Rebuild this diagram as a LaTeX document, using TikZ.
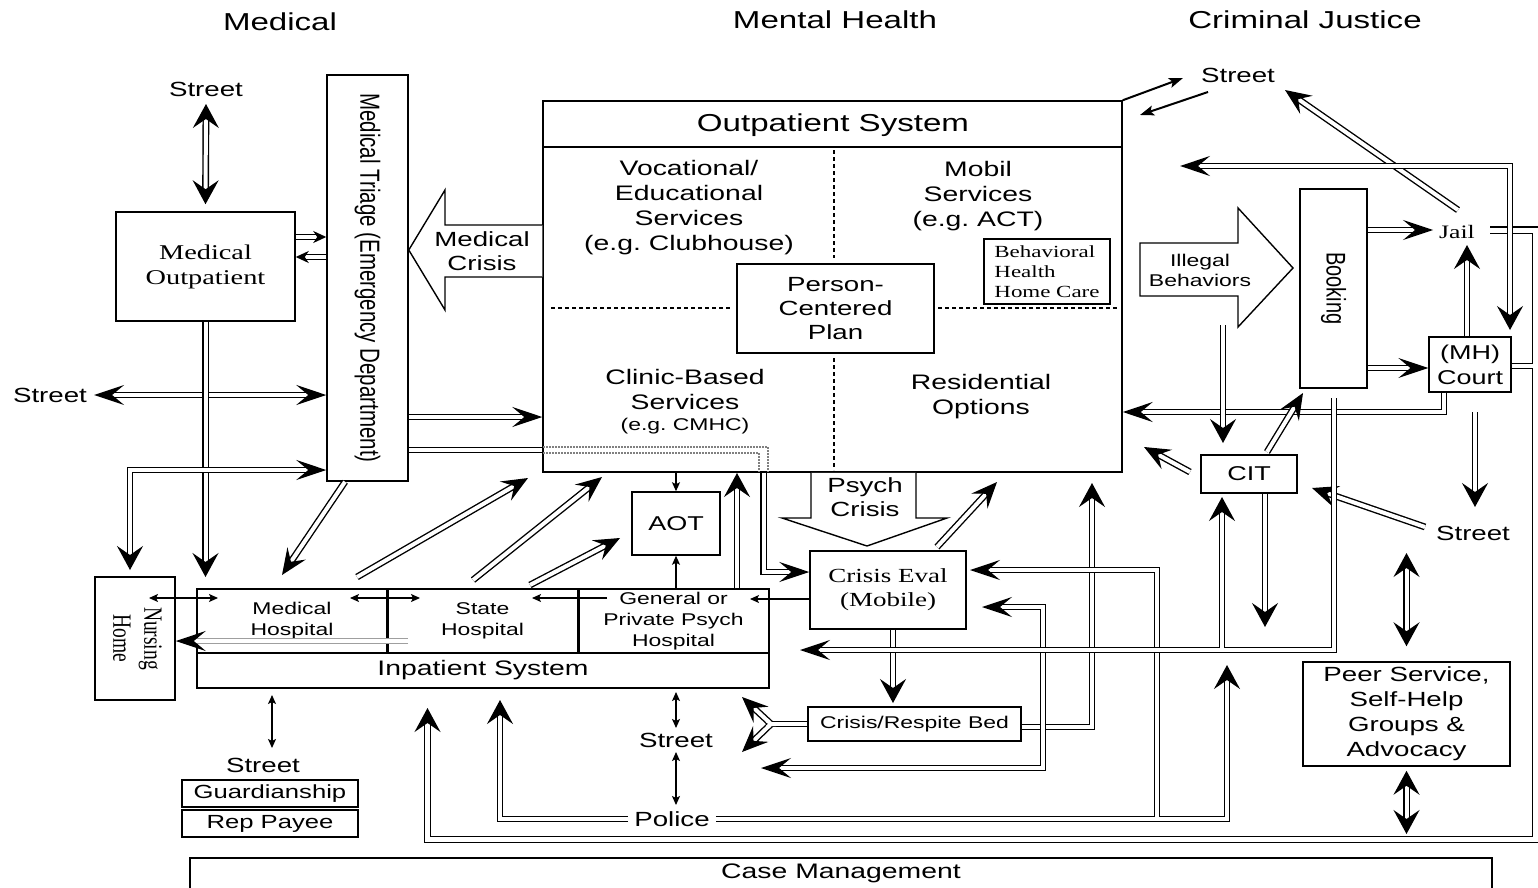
\documentclass[tikz,border=0pt]{standalone}
\usepackage{fontspec}
\usepackage{graphicx}
\setmainfont{Liberation Sans}[FakeStretch=1.35]
\newfontfamily\rsans{Liberation Sans}
\newfontfamily\xserif{Liberation Serif}[FakeStretch=1.35]
\newfontfamily\rserif{Liberation Serif}
\usetikzlibrary{arrows.meta}
\newcommand{\fs}[2]{\fontsize{#1}{#2}\selectfont}
\newcommand{\rtext}[1]{\rotatebox{-90}{\scalebox{1}[1.35]{#1}}}
\tikzset{
 Av/.tip={Stealth[length=24pt,width=26pt,inset=9pt]},
 Ah/.tip={Stealth[length=30pt,width=20pt,inset=12pt]},
 Ad/.tip={Stealth[length=26pt,width=22pt,inset=10pt]},
 Am/.tip={Stealth[length=13pt,width=12pt,inset=4pt]},
 As/.tip={Stealth[length=9pt,width=8pt,inset=2pt]},
 Ak/.tip={Stealth[length=14pt,width=10pt,inset=3pt]},
 Ahb/.tip={Stealth[length=30pt,width=20pt,inset=12pt,color=black]},
}
\frenchspacing
\begin{document}
\begin{tikzpicture}[x=1pt,y=-1pt,
  box/.style={draw, line width=1.5pt, fill=white, inner sep=0pt, align=center},
  lbl/.style={inner sep=1pt, align=center},
  dl/.style={draw, double, line width=1.4pt, double distance=4pt},
  dlo/.style={draw, double, line width=1.4pt, double distance=5pt},
  tl/.style={draw, line width=1.2pt},
  blk/.style={draw, line width=1.4pt, fill=white},
  fH/.style={font=\fs{24.5}{28}},
  fM/.style={font=\fs{21}{25}},
  fS/.style={font=\fs{17}{21}},
  fT/.style={font=\fs{20.5}{24}}]
\useasboundingbox (0,0) rectangle (1538,888);

% headers
\node[lbl,fH] (hmed) at (280,22) {Medical};
\node[lbl,fH] (hmh) at (835,20) {Mental Health};
\node[lbl,fH] (hcj) at (1305,20) {Criminal Justice};

% medical column
\node[lbl,fT] (st1) at (206,89) {Street};
\node[box, font={\xserif\fs{21}{25}}, minimum width=179pt, minimum height=109pt] (mo) at (205.5,266.5) {Medical\\Outpatient};
\node[box, minimum width=81pt, minimum height=406pt] (tr) at (367.5,278) {\rtext{\rsans\fs{20.5}{24}Medical Triage (Emergency Department)}};
\node[lbl,fT] (st2) at (50,395) {Street};

% outpatient system
\node[box, minimum width=579pt, minimum height=371pt] (op) at (832.5,286.5) {};
\draw[line width=1.5pt] (op.west |- 0,147) -- (op.east |- 0,147);
\node[lbl,fH] (opt) at (833,125) {Outpatient System};
\draw[line width=1.3pt, dash pattern=on 4pt off 3pt] (834,150) -- (834,258) (834,358) -- (834,470) (551,308) -- (731,308) (938,308) -- (1118,308);
\node[box, font={\fs{20.5}{24}}, minimum width=197pt, minimum height=89pt] (pcp) at (835.5,308.5) {Person-\\Centered\\Plan};
\node[box, font={\xserif\fs{17}{20}}, line width=1.2pt, minimum width=126pt, minimum height=65pt, align=left] (bh) at (1047,271.5) {Behavioral\\Health\\Home Care};
\node[lbl,fM] (voc) at (689,208) {Vocational/\\Educational\\Services\\(e.g. Clubhouse)};
\node[lbl,fM] (mob) at (978,196) {Mobil\\Services\\(e.g. ACT)};
\node[lbl,fM] (cli) at (685,402) {Clinic-Based\\Services\\[-4pt]{\fs{17}{20}(e.g. CMHC)}};
\node[lbl,fM] (res) at (981,397) {Residential\\Options};

% medical crisis block arrow
\draw[blk] (op.west |- 0,225) -- (445,225) -- (445,190) -- (tr.east |- 0,250) -- (445,310) -- (445,277) -- (op.west |- 0,277);
\node[lbl,font={\fs{20.5}{24}}] (mcr) at (482,251) {Medical\\Crisis};

% AOT, crisis
\node[box, font={\fs{20}{24}}, minimum width=88pt, minimum height=63pt] (aot) at (676,523.5) {AOT};
\draw[blk] (op.south -| 811,0) -- (811,518) -- (782,518) -- (867,546) -- (947,518) -- (916,518) -- (op.south -| 916,0);
\node[lbl,font={\fs{20.5}{24}}] (pcr) at (865,497) {Psych\\Crisis};
\node[box, font={\xserif\fs{20}{24}}, minimum width=156pt, minimum height=78pt] (ce) at (888,590) {Crisis Eval\\(Mobile)};
\node[box, font={\fs{17}{20}}, line width=1.3pt, minimum width=213pt, minimum height=34pt] (rb) at (914.5,724) {Crisis/Respite Bed};

% inpatient system
\node[box, fS, minimum width=190pt, minimum height=64pt] (mh) at (292,621) {Medical\\Hospital};
\node[box, fS, minimum width=191pt, minimum height=64pt] (sh) at (482.5,621) {State\\Hospital};
\node[box, fS, minimum width=191pt, minimum height=64pt] (gp) at (673.5,621) {General or\\Private Psych\\Hospital};
\node[box, fM, minimum width=572pt, minimum height=35pt] (ip) at (483,670.5) {Inpatient System};
\draw[line width=3pt] (mh.north east) -- (mh.south east) (sh.north east) -- (sh.south east);
\node[box, minimum width=80pt, minimum height=123pt] (nh) at (135,638.5) {\rtext{\rserif\fs{19.5}{23}\begin{tabular}{@{}c@{}}Nursing\\Home\end{tabular}}};

% bottom left
\node[lbl,fT] (st3) at (263,765) {Street};
\node[box, font={\fs{19}{22}}, line width=1.2pt, minimum width=176pt, minimum height=27pt] (gu) at (270,793.5) {Guardianship};
\node[box, font={\fs{19}{22}}, line width=1.2pt, minimum width=176pt, minimum height=27pt] (rp) at (270,823.5) {Rep Payee};
\node[lbl,fT] (st4) at (676,740) {Street};
\node[lbl,fT, inner xsep=6pt] (po) at (672,819) {Police};
\node[box, minimum width=1302pt, minimum height=45pt] (cm) at (841,880.5) {};
\node[lbl,fM] (cmt) at (841,873) {Case Management};

% criminal justice
\node[lbl,fT] (st5) at (1238,75) {Street};
\draw[blk] (1140,243) -- (1238,243) -- (1238,208) -- (1293,268) -- (1238,327) -- (1238,296) -- (1140,296) -- cycle;
\node[lbl,font={\fs{17}{20}}] (ibt) at (1200,270) {Illegal\\Behaviors};
\node[box, minimum width=67pt, minimum height=199pt] (bk) at (1333.5,288.5) {\rtext{\rsans\fs{20}{24}Booking}};
\node[lbl,font={\xserif\fs{19}{22}}] (jail) at (1457,232) {Jail};
\node[box, font={\fs{20}{25}}, line width=1.3pt, minimum width=82pt, minimum height=55pt] (ct) at (1470,364.5) {(MH)\\Court};
\node[box, font={\fs{20}{24}}, minimum width=96pt, minimum height=38pt] (cit) at (1249,474) {CIT};
\node[lbl,fT] (st6) at (1473,533) {Street};
\node[box, font={\fs{20.5}{25}}, minimum width=207pt, minimum height=104pt] (peer) at (1406.5,714) {Peer Service,\\Self-Help\\Groups \&\\Advocacy};

% ---------- connectors: medical ----------
\draw[dl,Av-Av] (206,104) -- ([yshift=7pt]mo.north);
\draw[dl,-Am] (mo.east |- 0,237) -- (tr.west |- 0,237);
\draw[dl,-Am] (tr.west |- 0,257) -- (mo.east |- 0,257);
\draw[dl,Ah-Ah] ([xshift=6pt]st2.east) -- (tr.west |- st2.east);
\draw[dl,-Av] (mo.south) -- (mo.south |- 0,577);
\draw[dl,Av-Ah] (130,570) -- (130,470) -- (tr.west |- 0,470);
\draw[dl,-Ah] (tr.east |- 0,417) -- (op.west |- 0,417);
\draw[dl] (tr.east |- 0,450) -- (op.west |- 0,450);
\draw[gray, line width=1.1pt, dash pattern=on 1.5pt off 1.5pt] (543,447) -- (768,447) -- (768,472) (543,453) -- (759,453) -- (759,472);
\draw[dl,-Ah] (op.south -| 763.5,0) -- (763.5,572) -- (ce.west |- 0,572);
\draw[dl,-Ad] (tr.south -| 345,0) -- (282,575);
\draw[dl, draw=gray!75, -Ahb] (408,641) -- (nh.east |- 0,641);

% thin arrows in the inpatient row
\draw[tl,As-As] (149,598) -- (218,598);
\draw[tl,As-As] (350,598) -- (420,598);
\draw[tl,-As] (607,598) -- (532,598);
\draw[tl,-As] (ce.west |- 0,599) -- (750,599);
\draw[tl,-As] (op.south -| aot.north) -- (aot.north);
\draw[tl,-As] (gp.north -| aot.south) -- (aot.south);
\draw[dl,-Av] (gp.north -| 737,0) -- (737,473);
\draw[dl,-Ad] (357,577) -- (528,478);
\draw[dl,-Ad] (473,580) -- (602,477);
\draw[dl,-Ad] (530,585) -- (620,538);

% crisis eval
\draw[dl,-Ad] (937,547) -- (997,482);
\draw[dl,-Av] (ce.south -| 893,0) -- (893,703);
\draw[dl,-Av] (rb.east |- 0,727) -- (1092,727) -- (1092,483);
\draw[dl,Ah-Ah] (982,607) -- (1043,607) -- (1043,768) -- (761,768);

% respite fork
\draw[dl,-Ad] (771,724) -- (742,697);
\draw[dl,-Ad] (771,724) -- (742,752);
\draw[dl] (rb.west) -- (771,724);
\draw[white,line width=4pt,line join=round] (767.3,720.6) -- (771,724) -- (767.3,727.4) (771,724) -- (776,724);

% police
\draw[dl,-Av] (po.east) -- (1227,819) -- (1227,665);
\draw[dl,-Ah,shorten <=2pt] (1157,819) -- (1157,570) -- (970,570);
\draw[white,line width=4pt] (1157,819) -- (1157,815);
\draw[dl,-Av] (po.west) -- (500,819) -- (500,700);

% street links
\draw[tl,As-As] (676,692) -- (676,728);
\draw[tl,As-As] (676,752) -- (676,805);
\draw[tl,As-As] (272,695) -- (272,748);

% big loop jail/court -> inpatient
\draw[dlo,-Av] (1490,230) -- (1535.5,230) -- (1535.5,839.5) -- (427.5,839.5) -- (427.5,708);
\draw[dl,shorten >=2.5pt] (ct.east |- 0,366) -- (1535.5,366);
\draw[white,line width=4pt] (1535.5,366) -- (1531,366);
\draw[dl,Av-Av] ([yshift=-4pt]peer.south) -- (1406.5,834);
\draw[dl,Av-Av] (1406.5,553) -- ([yshift=15pt]peer.north);

% criminal justice connectors
\draw[dl,-Av] (1475,412) -- (1475,507);
\draw[dl,-Ad] (1425,527) -- (1312,488);
\draw[dl,-Ah] (ct.south -| 1444,0) -- (1444,412) -- (op.east |- 0,412);
\draw[dl,-Ah] (1334,398) -- (1334,650) -- (800,650);
\draw[dl,-Av,shorten <=2pt] (1222,650) -- (1222,497);
\draw[white,line width=4pt] (1222,650) -- (1222,646);
\draw[dl,-Av] (cit.south -| 1265,0) -- (1265,627);
\draw[dl,-Av] (1223,325) -- (1223,443);
\draw[dl,-Ad] (1267,452) -- (1303,393);
\draw[dl,-Ad] (1190,472) -- (1144,447);
\draw[dl,-Ah] (bk.east |- 0,230) -- (1433,230);
\draw[dl,-Av] (ct.north -| 1467,0) -- (1467,245);
\draw[dl,-Ah] (bk.east |- 0,368) -- (ct.west |- 0,368);
\draw[dl,-Ad] (1458,210) -- (1285,90);
\draw[dl,Ah-Av] (1180,166) -- (1510,166) -- (1510,330);
\draw[line width=2pt,-Ak] (op.north east) -- (1183,78);
\draw[line width=2pt,-Ak] (1208,92) -- (1140,115);
\end{tikzpicture}
\end{document}
